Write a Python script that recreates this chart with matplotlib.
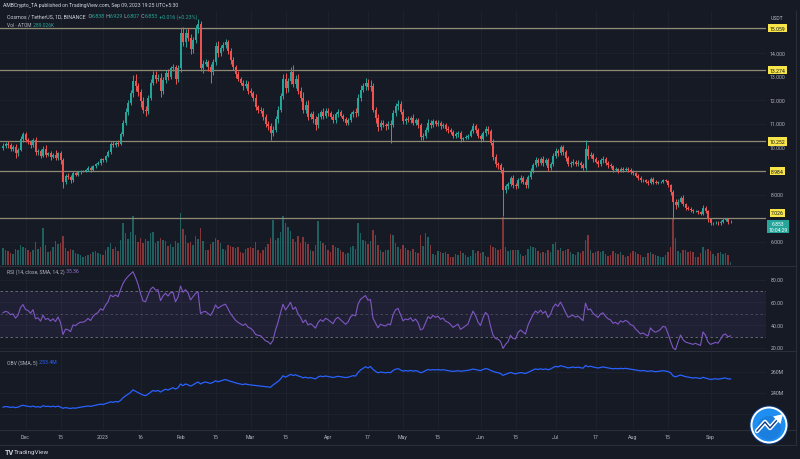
import numpy as np
import pandas as pd
import matplotlib
matplotlib.use("Agg")
import matplotlib.pyplot as plt
import matplotlib.dates as mdates
from matplotlib.transforms import blended_transform_factory
from matplotlib.patches import Circle, Polygon

plt.rcParams['font.family'] = ['Roboto', 'DejaVu Sans']

# ---------------- DATA (ATOM/USDT daily, Binance) ----------------
start_date = "2022-11-22"
end_date = "2023-09-09"
first_open = 9.98

close_nov = [10.05, 10.15, 10.10, 9.95, 10.00, 9.75, 9.90, 10.35, 10.55]
close_dec = [10.30, 10.25, 10.10, 10.30, 9.80, 9.85, 9.65, 9.95, 9.70, 9.75,
             9.60, 9.70, 9.55, 9.75, 9.45, 8.55, 8.80, 8.75, 8.60, 8.90,
             8.85, 8.95, 9.00, 9.00, 9.05, 9.15, 9.05, 9.20, 9.30, 9.35,
             9.50]
close_jan = [9.45, 9.65, 9.80, 10.15, 10.10, 10.20, 10.15, 10.55, 11.05, 11.50,
             11.90, 12.30, 12.80, 12.60, 12.35, 11.95, 11.60, 11.55, 12.10, 12.75,
             13.05, 12.90, 12.95, 12.40, 12.85, 13.15, 13.00, 13.35, 13.40, 12.90,
             13.35]
close_feb = [14.85, 14.45, 14.85, 14.65, 14.15, 14.55, 15.00, 15.25, 13.35, 13.55,
             13.60, 13.40, 13.20, 13.60, 14.30, 14.00, 14.20, 14.35, 14.45, 14.10,
             13.70, 13.40, 13.10, 12.90, 12.75, 12.60, 12.70, 12.40]
close_mar = [12.30, 12.10, 11.70, 11.60, 11.55, 11.30, 11.00, 10.90, 10.60, 10.75,
             11.20, 11.60, 12.20, 12.90, 12.50, 12.80, 13.20, 12.70, 12.90, 12.40,
             12.10, 11.60, 11.80, 11.30, 11.40, 11.20, 10.95, 11.30, 11.50, 11.35,
             11.55]
close_apr = [11.45, 11.30, 11.15, 11.40, 11.50, 11.35, 11.20, 11.05, 11.15, 11.40,
             11.50, 11.45, 12.10, 12.45, 12.60, 12.75, 12.55, 12.60, 11.60, 11.25,
             10.85, 11.05, 10.95, 10.90, 11.00, 10.95, 11.45, 11.75, 11.85, 11.50]
close_may = [11.10, 11.20, 11.15, 11.25, 11.05, 11.15, 10.95, 10.45, 10.50, 10.75,
             11.05, 10.95, 11.10, 11.00, 11.05, 10.90, 10.95, 10.80, 10.75, 10.65,
             10.50, 10.55, 10.60, 10.35, 10.40, 10.45, 10.50, 10.70, 10.90, 10.75,
             10.50]
close_jun = [10.35, 10.60, 10.80, 10.70, 10.20, 9.60, 9.30, 9.25, 9.05, 8.20,
             8.35, 8.45, 8.70, 8.40, 8.35, 8.60, 8.70, 8.55, 8.40, 8.75,
             9.00, 9.25, 9.45, 9.35, 9.50, 9.35, 9.45, 9.15, 9.30, 9.65]
close_jul = [9.85, 9.75, 10.00, 9.80, 9.55, 9.30, 9.35, 9.40, 9.30, 9.35,
             9.25, 9.15, 9.95, 9.65, 9.70, 9.50, 9.40, 9.30, 9.45, 9.50,
             9.35, 9.25, 9.20, 9.05, 9.08, 9.00, 9.10, 9.05, 9.10, 9.05,
             8.95]
close_aug = [8.92, 8.80, 8.70, 8.60, 8.62, 8.55, 8.50, 8.65, 8.55, 8.50,
             8.52, 8.55, 8.60, 8.58, 8.40, 8.10, 7.70, 7.55, 7.70, 7.85,
             7.60, 7.45, 7.40, 7.35, 7.30, 7.32, 7.25, 7.20, 7.45, 7.30,
             6.95]
close_sep = [6.78, 6.80, 6.82, 6.78, 6.85, 6.93, 6.95, 6.837, 6.853]

upper_wick = [0.12, 0.10, 0.14, 0.08, 0.10, 0.15, 0.08, 0.12, 0.10,
    0.10, 0.12, 0.08, 0.10, 0.14, 0.08, 0.10, 0.12, 0.15, 0.06, 0.10, 0.08, 0.20, 0.06, 0.10, 0.12,
    0.08, 0.10, 0.08, 0.10, 0.06, 0.05, 0.06, 0.04, 0.05, 0.06, 0.08, 0.05, 0.06, 0.08, 0.05,
    0.06, 0.05, 0.08, 0.10, 0.12, 0.08, 0.10, 0.10, 0.12, 0.15, 0.10, 0.15, 0.25, 0.30, 0.15, 0.12,
    0.20, 0.15, 0.12, 0.15, 0.20, 0.18, 0.15, 0.20, 0.12, 0.15, 0.18, 0.12, 0.15, 0.10, 0.15,
    0.20, 0.25, 0.15, 0.20, 0.15, 0.12, 0.20, 0.20, 0.10, 0.15, 0.15, 0.10, 0.12, 0.15, 0.15, 0.20,
    0.15, 0.12, 0.15, 0.10, 0.10, 0.12, 0.10, 0.15, 0.10, 0.12, 0.15, 0.10,
    0.12, 0.10, 0.15, 0.10, 0.12, 0.10, 0.12, 0.10, 0.15, 0.15, 0.12, 0.15, 0.12, 0.20, 0.25, 0.15,
    0.20, 0.30, 0.15, 0.20, 0.15, 0.25, 0.15, 0.20, 0.12, 0.15, 0.12, 0.15, 0.10, 0.15, 0.12,
    0.10, 0.08, 0.12, 0.10, 0.12, 0.10, 0.08, 0.10, 0.08, 0.12, 0.10, 0.15, 0.15, 0.20, 0.15, 0.20,
    0.15, 0.25, 0.15, 0.12, 0.15, 0.10, 0.12, 0.10, 0.12, 0.15, 0.15, 0.12, 0.15, 0.10,
    0.12, 0.10, 0.12, 0.10, 0.15, 0.08, 0.10, 0.08, 0.10, 0.12, 0.15, 0.10, 0.12, 0.08, 0.10, 0.08,
    0.10, 0.08, 0.10, 0.06, 0.08, 0.10, 0.08, 0.10, 0.06, 0.08, 0.06, 0.10, 0.15, 0.10, 0.08,
    0.08, 0.10, 0.12, 0.10, 0.08, 0.15, 0.12, 0.10, 0.10, 0.12, 0.10, 0.08, 0.10, 0.12, 0.08, 0.10,
    0.12, 0.08, 0.10, 0.10, 0.12, 0.10, 0.15, 0.12, 0.10, 0.12, 0.10, 0.12, 0.10, 0.12,
    0.12, 0.10, 0.12, 0.10, 0.08, 0.10, 0.08, 0.10, 0.08, 0.10, 0.08, 0.10, 0.35, 0.15, 0.10, 0.08,
    0.10, 0.08, 0.10, 0.12, 0.08, 0.06, 0.08, 0.06, 0.08, 0.06, 0.08, 0.06, 0.08, 0.06, 0.08,
    0.08, 0.06, 0.08, 0.10, 0.06, 0.05, 0.06, 0.10, 0.08, 0.06, 0.05, 0.04, 0.05, 0.06, 0.05, 0.06,
    0.08, 0.12, 0.10, 0.08, 0.12, 0.06, 0.08, 0.06, 0.05, 0.04, 0.05, 0.06, 0.12, 0.08, 0.06,
    0.06, 0.05, 0.06, 0.05, 0.06, 0.08, 0.06, 0.08, 0.076]
lower_wick = [0.10, 0.08, 0.12, 0.10, 0.08, 0.18, 0.10, 0.06, 0.12,
    0.08, 0.10, 0.12, 0.08, 0.10, 0.12, 0.08, 0.06, 0.10, 0.08, 0.12, 0.06, 0.10, 0.08, 0.15, 0.25,
    0.10, 0.08, 0.12, 0.06, 0.08, 0.05, 0.06, 0.05, 0.04, 0.06, 0.08, 0.05, 0.06, 0.05, 0.08,
    0.08, 0.06, 0.05, 0.08, 0.10, 0.08, 0.10, 0.05, 0.08, 0.10, 0.12, 0.10, 0.15, 0.20, 0.15, 0.25,
    0.12, 0.20, 0.15, 0.10, 0.12, 0.15, 0.10, 0.25, 0.15, 0.12, 0.15, 0.10, 0.12, 0.20, 0.12,
    0.15, 0.15, 0.20, 0.12, 0.20, 0.15, 0.12, 0.15, 0.12, 0.20, 0.12, 0.15, 0.45, 0.15, 0.10, 0.15,
    0.12, 0.10, 0.12, 0.15, 0.15, 0.10, 0.15, 0.10, 0.12, 0.15, 0.10, 0.15,
    0.10, 0.15, 0.10, 0.12, 0.10, 0.15, 0.12, 0.15, 0.30, 0.12, 0.10, 0.15, 0.10, 0.15, 0.20, 0.15,
    0.12, 0.15, 0.20, 0.15, 0.12, 0.15, 0.12, 0.15, 0.10, 0.15, 0.20, 0.12, 0.10, 0.15, 0.12,
    0.12, 0.10, 0.12, 0.10, 0.12, 0.08, 0.10, 0.12, 0.10, 0.08, 0.12, 0.15, 0.10, 0.15, 0.12, 0.15,
    0.12, 0.15, 0.10, 0.20, 0.15, 0.12, 0.10, 0.15, 0.12, 0.75, 0.10, 0.12, 0.15, 0.10,
    0.10, 0.12, 0.08, 0.10, 0.12, 0.10, 0.12, 0.15, 0.12, 0.10, 0.08, 0.12, 0.08, 0.10, 0.08, 0.12,
    0.08, 0.10, 0.12, 0.08, 0.10, 0.08, 0.10, 0.12, 0.08, 0.06, 0.08, 0.06, 0.10, 0.12, 0.10,
    0.10, 0.08, 0.10, 0.12, 0.10, 0.15, 0.12, 0.15, 0.12, 1.10, 0.15, 0.10, 0.08, 0.12, 0.10, 0.08,
    0.10, 0.08, 0.12, 0.10, 0.08, 0.10, 0.08, 0.12, 0.10, 0.12, 0.08, 0.15, 0.12, 0.08,
    0.10, 0.12, 0.08, 0.10, 0.12, 0.10, 0.12, 0.08, 0.10, 0.08, 0.10, 0.12, 0.10, 0.12, 0.08, 0.10,
    0.08, 0.12, 0.08, 0.10, 0.08, 0.10, 0.08, 0.10, 0.06, 0.08, 0.06, 0.08, 0.06, 0.08, 0.08,
    0.08, 0.06, 0.10, 0.08, 0.05, 0.06, 0.08, 0.06, 0.08, 0.06, 0.05, 0.04, 0.05, 0.06, 0.08, 0.10,
    0.75, 0.15, 0.08, 0.06, 0.08, 0.10, 0.06, 0.08, 0.06, 0.05, 0.06, 0.08, 0.06, 0.08, 0.10,
    0.08, 0.05, 0.06, 0.08, 0.06, 0.05, 0.06, 0.06, 0.031]

# volume, millions of ATOM
volume = [1.9, 1.7, 1.5, 1.3, 1.2, 1.8, 1.6, 2.2, 2.0,
    1.9, 1.6, 1.4, 1.7, 2.5, 1.8, 2.0, 4.1, 2.2, 1.4, 1.5, 2.0, 2.6, 2.3, 2.4, 3.2,
    1.9, 1.5, 1.8, 1.7, 1.3, 1.2, 1.1, 0.9, 1.0, 1.1, 1.2, 1.4, 1.5, 1.3, 1.2,
    1.1, 1.7, 2.0, 2.4, 1.8, 2.0, 1.5, 2.8, 4.6, 3.5, 2.9, 3.6, 5.4, 3.3, 2.5, 3.0,
    2.4, 2.9, 2.7, 3.5, 3.6, 2.4, 2.6, 3.0, 2.8, 2.6, 2.1, 2.3, 2.0, 2.7, 2.4,
    5.7, 4.0, 3.3, 2.4, 2.5, 2.2, 3.2, 2.9, 4.1, 2.6, 1.7, 1.6, 2.3, 2.5, 3.0, 2.8,
    2.4, 1.8, 1.7, 2.2, 2.1, 2.0, 1.9, 2.0, 1.4, 1.3, 1.8, 1.9,
    2.0, 1.9, 2.5, 1.6, 1.3, 1.7, 2.0, 2.3, 3.0, 5.0, 2.8, 3.0, 3.6, 5.4, 4.6, 4.2,
    3.8, 2.9, 2.5, 3.2, 2.4, 3.1, 2.5, 2.3, 1.7, 1.5, 2.2, 4.8, 2.6, 2.4, 2.2,
    1.6, 1.4, 2.2, 2.0, 1.9, 1.7, 1.4, 1.2, 1.3, 2.0, 2.1, 1.8, 4.6, 3.5, 2.8, 2.6,
    2.3, 2.7, 3.9, 3.3, 2.2, 1.6, 1.4, 1.7, 1.6, 3.4, 3.3, 2.4, 2.0, 1.8,
    2.2, 1.9, 1.6, 1.5, 1.8, 1.4, 1.3, 3.3, 2.1, 3.5, 3.1, 2.2, 1.2, 1.1, 1.5, 1.4,
    1.3, 1.4, 1.2, 0.9, 0.9, 1.2, 1.1, 1.5, 1.3, 1.1, 0.9, 1.0, 1.6, 1.3, 1.5,
    1.3, 1.4, 1.0, 0.9, 2.2, 2.0, 1.9, 1.6, 1.8, 5.3, 2.0, 1.5, 1.7, 1.6, 1.7, 1.6,
    1.2, 1.0, 1.1, 1.8, 2.1, 2.0, 1.9, 1.5, 1.3, 1.4, 1.3, 1.6, 1.4, 2.3,
    2.5, 1.6, 1.9, 1.5, 1.6, 1.8, 1.4, 1.2, 1.1, 1.4, 1.3, 1.5, 2.8, 3.3, 1.6, 1.3,
    1.4, 1.5, 1.4, 1.5, 1.2, 1.0, 1.1, 1.5, 1.3, 1.2, 1.4, 1.1, 0.9, 1.0, 1.3,
    1.5, 1.4, 1.2, 1.1, 0.9, 0.9, 1.3, 1.4, 1.2, 1.1, 1.0, 0.9, 0.9, 1.1, 1.4, 2.0,
    5.2, 3.0, 1.5, 1.3, 1.6, 1.7, 1.4, 1.5, 1.4, 0.9, 0.9, 1.3, 2.0, 1.6, 1.8,
    1.5, 1.2, 1.0, 1.3, 1.4, 1.2, 1.3, 1.1, 0.32]

# On-balance volume, millions
obv = [226.5, 227.1, 226.8, 226.3, 226.7, 226.0, 226.5, 227.6, 228.3,
    227.7, 227.3, 226.9, 227.5, 226.6, 227.0, 226.4, 227.9, 227.1, 227.4, 226.9, 227.4, 226.8, 227.5,
    226.6, 225.4, 226.1, 225.7, 225.2, 225.8, 225.5, 226.0, 226.5, 226.8, 227.2, 227.7, 227.2, 227.8,
    228.4, 228.9, 229.4,
    229.0, 229.9, 230.6, 231.6, 231.1, 231.9, 231.4, 232.9, 235.4, 237.3, 238.8, 240.5, 243.0, 241.6,
    240.4, 239.1, 238.1, 237.4, 238.9, 240.7, 242.4, 241.6, 242.5, 240.9, 242.4, 243.6, 242.8, 244.0,
    245.0, 243.7, 245.0,
    248.5, 247.0, 248.6, 247.8, 246.6, 247.7, 249.2, 250.5, 248.6, 249.8, 250.5, 249.8, 249.1, 250.2,
    251.6, 250.7, 251.5, 252.2, 252.8, 251.9, 251.1, 250.4, 249.7, 249.0, 248.5, 248.0, 248.7, 248.0,
    247.7, 247.4, 247.0, 246.8, 246.6, 246.3, 246.0, 245.8, 245.4, 247.6, 249.3, 251.0, 253.2, 256.4,
    255.1, 256.3, 257.8, 256.7, 257.4, 256.3, 255.6, 254.4, 255.1, 254.2, 254.7, 254.1, 253.4, 255.2,
    256.1, 255.5, 256.2,
    255.7, 255.3, 254.8, 255.4, 255.9, 255.5, 255.1, 254.7, 255.0, 255.7, 256.5, 256.1, 259.4, 261.9,
    263.5, 265.0, 263.8, 265.2, 262.5, 260.6, 259.2, 260.0, 259.6, 259.2, 259.7, 259.3, 261.4, 262.6,
    263.2, 262.0,
    260.8, 261.4, 260.9, 261.5, 260.8, 261.3, 260.7, 259.3, 260.0, 261.3, 262.4, 261.8, 262.3, 261.9,
    262.3, 261.8, 262.2, 261.7, 261.3, 260.9, 260.6, 260.9, 261.2, 260.7, 261.0, 261.3, 261.6, 262.1,
    262.8, 262.3, 261.8,
    261.3, 262.4, 263.2, 262.8, 261.6, 260.6, 259.8, 259.3, 258.6, 256.8, 257.8, 258.6, 259.6, 258.8,
    258.2, 258.9, 259.4, 259.0, 258.6, 259.6, 260.8, 261.9, 262.9, 262.4, 263.0, 262.4, 262.9, 262.2,
    262.8, 264.2,
    265.4, 264.8, 266.0, 265.4, 264.7, 263.9, 264.3, 264.7, 264.2, 264.6, 264.1, 263.6, 266.2, 265.0,
    265.5, 264.8, 264.3, 263.8, 264.3, 264.8, 264.3, 263.9, 263.5, 263.0, 263.4, 263.0, 263.5, 263.1,
    263.5, 263.1, 262.7,
    262.3, 261.9, 261.5, 261.1, 261.4, 261.0, 260.6, 261.1, 260.7, 260.3, 260.6, 260.9, 261.2, 260.9,
    260.4, 259.4, 256.3, 255.4, 256.3, 257.1, 256.3, 255.6, 255.1, 254.7, 254.3, 254.6, 254.2, 253.8,
    254.9, 254.2, 253.5,
    252.9, 253.3, 253.6, 253.1, 253.6, 254.0, 254.3, 253.4, 253.4]

levels = [15.059, 13.274, 10.252, 8.984, 7.026]
price_grid = [6, 7, 8, 9, 10, 11, 12, 13, 14, 15]
price_labels = [6, 8, 10, 11, 12, 13, 14]   # 7, 9, 15 hidden under level tags
rsi_ticks = [80, 60, 40, 20]
obv_ticks = [260, 240, 220]
date_ticks = ["2022-12-01", "2022-12-15", "2023-01-01", "2023-01-16", "2023-02-01",
              "2023-02-15", "2023-03-01", "2023-03-15", "2023-04-01", "2023-04-17",
              "2023-05-01", "2023-05-15", "2023-06-01", "2023-06-15", "2023-07-01",
              "2023-07-17", "2023-08-01", "2023-08-15", "2023-09-01"]
date_labels = ["Dec", "15", "2023", "16", "Feb", "15", "Mar", "15", "Apr", "17",
               "May", "15", "Jun", "15", "Jul", "17", "Aug", "15", "Sep"]

# ---------------- derived ----------------
dates = pd.date_range(start_date, end_date, freq="D")
closes = np.array(close_nov + close_dec + close_jan + close_feb + close_mar + close_apr +
                  close_may + close_jun + close_jul + close_aug + close_sep)
n = len(dates)
assert len(closes) == n and len(upper_wick) == n and len(lower_wick) == n
assert len(volume) == n and len(obv) == n

opens = np.concatenate([[first_open], closes[:-1]])
highs = np.maximum(opens, closes) + np.array(upper_wick)
lows = np.minimum(opens, closes) - np.array(lower_wick)
x = mdates.date2num(dates)

UP, DN = "#26a69a", "#ef5350"
cols = np.where(closes >= opens, UP, DN)

# RSI 14 (Wilder)
rsi = []
ag = al = 0.15
prev = first_open
for c in closes:
    d = c - prev
    ag = (ag * 13 + max(d, 0)) / 14
    al = (al * 13 + max(-d, 0)) / 14
    rsi.append(100 - 100 / (1 + ag / al))
    prev = c

# ---------------- figure ----------------
W, H = 800, 460
BG = "#161a25"
GRID = "#1f2330"
SEP = "#2a2e39"
TXT = "#b2b5be"
fig = plt.figure(figsize=(W / 100, H / 100), dpi=100, facecolor=BG)

def rect(top, bot, left=0, right=766):
    return [left / W, 1 - bot / H, (right - left) / W, (bot - top) / H]

ax = fig.add_axes(rect(12, 266))
vax = ax.twinx()
rax = fig.add_axes(rect(267, 351))
oax = fig.add_axes(rect(352, 430))
for a in (ax, vax, rax, oax):
    a.patch.set_visible(False)
    for s in a.spines.values():
        s.set_visible(False)
    a.set_xticks([])
    a.set_yticks([])

d0 = mdates.date2num(pd.Timestamp("2022-12-01"))
for a in (ax, vax, rax, oax):
    a.set_xlim(d0 - 10.2, d0 + 296.2)
ax.set_ylim(5.02, 15.78)
vax.set_ylim(0, 28)
rax.set_ylim(18.2, 92)
oax.set_ylim(205.7, 280)
ax.set_zorder(vax.get_zorder() + 1)

tick_x = mdates.date2num(pd.to_datetime(date_ticks))
for tx in tick_x:
    for a in (vax, rax, oax):
        a.axvline(tx, color=GRID, lw=0.6, zorder=0)
btr = blended_transform_factory(vax.transAxes, ax.transData)
for p in price_grid:
    vax.plot([0, 1], [p, p], color=GRID, lw=0.6, transform=btr, zorder=0)
for r in rsi_ticks:
    rax.axhline(r, color=GRID, lw=0.6, zorder=0)
for o in obv_ticks:
    oax.axhline(o, color=GRID, lw=0.6, zorder=0)

# volume
vax.bar(x, volume, width=0.7, color=cols, alpha=0.5, linewidth=0, zorder=1)

# levels
for lv in levels:
    ax.axhline(lv, color="#8e8a74", lw=0.9, zorder=1)

# candles
body_lo = np.minimum(opens, closes)
body_h = np.maximum(np.abs(closes - opens), 0.02)
ax.vlines(x, lows, highs, colors=cols, linewidth=0.7, zorder=2)
ax.bar(x, body_h, bottom=body_lo, width=0.72, color=cols, linewidth=0, zorder=3)

# RSI
rax.axhspan(30, 70, color="#7e57c2", alpha=0.10, lw=0)
for lvl in (70, 50, 30):
    rax.axhline(lvl, color="#787b86", lw=0.6, ls=(0, (3, 3)),
                alpha=0.9 if lvl != 50 else 0.5)
rax.plot(x, rsi, color="#7e57c2", lw=0.8)

# OBV
oax.plot(x, obv, color="#2962ff", lw=0.9)

# ---------------- overlay ----------------
ov = fig.add_axes([0, 0, 1, 1])
ov.set_xlim(0, W)
ov.set_ylim(H, 0)
ov.axis("off")
ov.patch.set_visible(False)

for yy in (266.5, 351.5, 430.5, 445.5):
    ov.plot([0, 796], [yy, yy], color=SEP, lw=0.8)
ov.plot([795.5, 795.5], [12, 445.5], color=SEP, lw=0.8)

renderer = fig.canvas.get_renderer()

def seq_text(x0, y0, pieces, target_w=None, size=4.0):
    if target_w is not None:
        tmp = ov.text(0, 0, "".join(s for s, _ in pieces), fontsize=size)
        w = tmp.get_window_extent(renderer=renderer).width
        tmp.remove()
        size = size * target_w / w
    xx = x0
    for s, c in pieces:
        t = ov.text(xx, y0, s, color=c, fontsize=size, va="center", ha="left")
        xx += t.get_window_extent(renderer=renderer).width
    return size

seq_text(3, 6, [("AMBCrypto_TA published on TradingView.com, Sep 09, 2023 19:25 UTC+5:30", "#d1d4dc")],
         target_w=173)
seq_text(7, 17, [("Cosmos / TetherUS, 1D, BINANCE", "#d1d4dc"), ("  O", "#b2b5be"), ("6.838", UP),
                 (" H", "#b2b5be"), ("6.929", UP), (" L", "#b2b5be"), ("6.807", UP),
                 (" C", "#b2b5be"), ("6.853", UP), (" +0.016 (+0.23%)", UP)], target_w=188)
seq_text(7, 25.5, [("Vol \u00b7 ATOM", "#b2b5be"), (" 289.026K", UP)], target_w=46)
seq_text(7, 272, [("RSI (14, close, SMA, 14, 2)", "#b2b5be"), (" 35.36", "#9575cd")], target_w=71)
seq_text(7, 363, [("OBV (SMA, 5)", "#b2b5be"), (" 253.4M", "#2962ff")], target_w=49)

# price scale
ptr = blended_transform_factory(ov.transData, ax.transData)
for p in price_labels:
    ov.text(777, p, f"{p:.3f}", transform=ptr, ha="center", va="center",
            fontsize=3.7, color=TXT)
ov.text(777, 18, "USDT", ha="center", va="center", fontsize=3.7, color=TXT)

def ppx(p):
    return 12 + (15.78 - p) / (15.78 - 5.02) * 254

for lv in levels:
    yy = ppx(lv) - (5.0 if lv == 7.026 else 0)
    ov.text(777.5, yy, f"{lv:.3f}", ha="center", va="center", fontsize=3.7,
            color="#131722", zorder=5,
            bbox=dict(boxstyle="square,pad=0.3", fc="#f7e54a", ec="none"))
ov.text(778, 227.5, "6.853\n10:04:29", ha="center", va="center", fontsize=3.6,
        color="white", linespacing=1.1, zorder=5,
        bbox=dict(boxstyle="square,pad=0.3", fc=UP, ec="none"))

rtr = blended_transform_factory(ov.transData, rax.transData)
for r in rsi_ticks:
    ov.text(777, r, f"{r:.2f}", transform=rtr, ha="center", va="center",
            fontsize=3.7, color=TXT)
otr = blended_transform_factory(ov.transData, oax.transData)
for o in obv_ticks:
    ov.text(777, o, f"{o}M", transform=otr, ha="center", va="center",
            fontsize=3.7, color=TXT)

# time scale
xtr = blended_transform_factory(ax.transData, ov.transData)
for tx, lab in zip(tick_x, date_labels):
    ov.text(tx, 437.5, lab, transform=xtr, ha="center", va="center",
            fontsize=3.8, color=TXT)

# footer
ov.text(5, 453, "TV", fontsize=5.2, weight="bold", color="#d1d4dc", va="center")
ov.text(14, 453, "TradingView", fontsize=4.6, color="#d1d4dc", va="center")

# watermark logo
cx, cy = 769, 426
ov.add_patch(Circle((cx, cy), 19.5, fc="#0b3a82", ec="none", zorder=6))
ov.add_patch(Circle((cx, cy), 17.5, fc="#1f8ef1", ec="white", lw=1.4, zorder=7))
ov.add_patch(Circle((cx, cy + 3), 12, fc="#1565c0", ec="none", alpha=0.35, zorder=7))
ov.plot([cx - 12, cx - 4, cx + 1, cx + 9], [cy + 6, cy - 3, cy + 3, cy - 6],
        color="white", lw=3.2, solid_capstyle="round", solid_joinstyle="round", zorder=8)
ov.plot([cx - 12, cx - 4, cx + 1, cx + 9], [cy + 6, cy - 3, cy + 3, cy - 6],
        color="#0b3a82", lw=1.0, solid_joinstyle="round", zorder=8)
ov.add_patch(Polygon([[cx + 14, cy - 11], [cx + 4, cy - 8.5], [cx + 11.5, cy - 1]],
                     closed=True, fc="white", ec="none", zorder=9))

fig.savefig("out.png", dpi=100, facecolor=BG)
